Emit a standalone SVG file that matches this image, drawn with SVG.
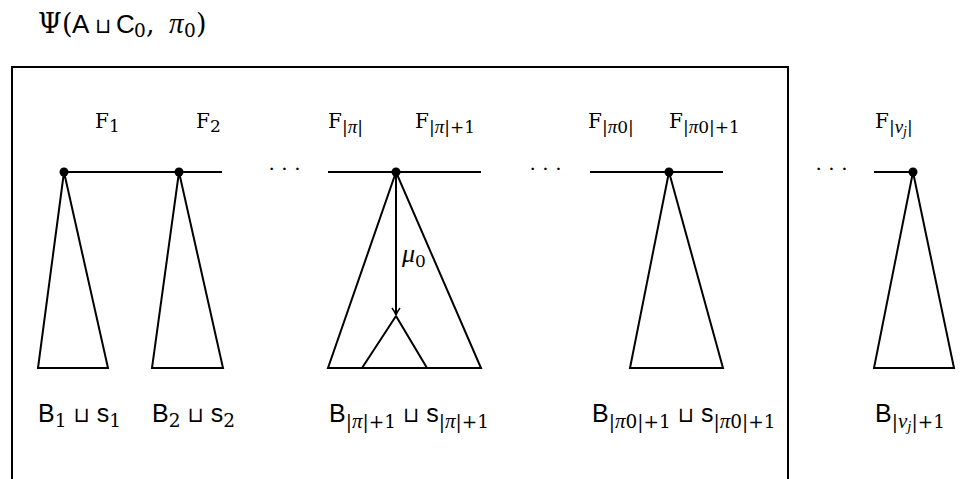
<svg xmlns="http://www.w3.org/2000/svg" width="970" height="479" viewBox="0 0 970 479">
<style>
.ln{stroke:#000;stroke-width:2;fill:none;stroke-linejoin:miter}
.dot{fill:#000}
.sf{font-family:"Liberation Sans","DejaVu Sans",sans-serif;font-size:25px}
.rm{font-family:"DejaVu Serif","Liberation Serif",serif;font-size:20px}
.sub{font-family:"DejaVu Serif","Liberation Serif",serif;font-size:17px}
.bsub{font-family:"DejaVu Serif","Liberation Serif",serif;font-size:18.5px}
.it{font-family:"Liberation Serif","DejaVu Serif",serif;font-style:italic}
.cup{font-family:"DejaVu Sans",sans-serif;font-size:21px}
.dots{font-family:"Liberation Serif",serif;font-size:22px}
</style>
<defs>
<marker id="ar" markerWidth="12" markerHeight="12" refX="9" refY="6" orient="auto" markerUnits="userSpaceOnUse">
<path d="M2,2 Q6,5 9,6 Q6,7 2,10" fill="none" stroke="#000" stroke-width="1.5"/>
</marker>
</defs>
<rect width="970" height="479" fill="#fff"/>
<text y="33" class="sf" style="font-size:26px"><tspan x="38" class="rm" style="font-size:27px">Ψ</tspan><tspan x="62" class="rm" style="font-size:27px">(</tspan><tspan x="72">A</tspan><tspan x="95" class="cup" style="font-size:21px">⊔</tspan><tspan x="116">C</tspan><tspan x="134" class="bsub" dy="4">0</tspan><tspan x="146" class="rm" style="font-size:27px" dy="-4">,</tspan><tspan x="169" class="it" style="font-size:29px">π</tspan><tspan x="184" class="bsub" dy="4">0</tspan><tspan x="196" class="rm" style="font-size:27px" dy="-4">)</tspan></text>
<path class="ln" d="M12,480 V67 H788 V480"/>
<g id="spine">
<path class="ln" d="M64,172 H222 M328,172 H481 M590,172 H723 M874,172 H913"/>
<text x="268" y="176" class="dots">· · ·</text>
<text x="529" y="176" class="dots">· · ·</text>
<text x="815" y="176" class="dots">· · ·</text>
</g>
<g id="tree1">
<path class="ln" d="M64,172 L38,368 H108 Z"/>
<circle class="dot" cx="64" cy="172" r="4.5"/>
<text x="95" y="128" class="rm">F<tspan class="sub" dy="4">1</tspan></text>
<text x="38" y="422" class="sf">B<tspan class="bsub" dy="5">1</tspan><tspan dy="-5"> </tspan><tspan class="cup">⊔</tspan> s<tspan class="bsub" dy="5">1</tspan></text>
</g>
<g id="tree2">
<path class="ln" d="M179,172 L152,368 H223 Z"/>
<circle class="dot" cx="179" cy="172" r="4.5"/>
<text x="196" y="128" class="rm">F<tspan class="sub" dy="4">2</tspan></text>
<text x="152" y="422" class="sf">B<tspan class="bsub" dy="5">2</tspan><tspan dy="-5"> </tspan><tspan class="cup">⊔</tspan> s<tspan class="bsub" dy="5">2</tspan></text>
</g>
<g id="tree3">
<path class="ln" d="M396,172 L328,368 H481 Z"/>
<path class="ln" d="M396,316 L362,368 M396,316 L427,368"/>
<circle class="dot" cx="396" cy="172" r="4.5"/>
<text x="328" y="128" class="rm">F<tspan class="sub" dy="5">|<tspan class="it" style="font-size:19px">π</tspan>|</tspan></text>
<text x="415" y="128" class="rm">F<tspan class="sub" dy="5">|<tspan class="it" style="font-size:19px">π</tspan>|+1</tspan></text>
<text x="329" y="422" class="sf">B<tspan class="bsub" dy="6">|<tspan class="it" style="font-size:21px">π</tspan>|+1</tspan><tspan dy="-6"> </tspan><tspan class="cup">⊔</tspan> s<tspan class="bsub" dy="6">|<tspan class="it" style="font-size:21px">π</tspan>|+1</tspan></text>
</g>
<g id="tree4">
<path class="ln" d="M669,172 L630,368 H723 Z"/>
<circle class="dot" cx="669" cy="172" r="4.5"/>
<text x="588" y="128" class="rm">F<tspan class="sub" dy="5">|<tspan class="it" style="font-size:19px">π</tspan>0|</tspan></text>
<text x="669" y="128" class="rm">F<tspan class="sub" dy="5">|<tspan class="it" style="font-size:19px">π</tspan>0|+1</tspan></text>
<text x="592" y="422" class="sf">B<tspan class="bsub" dy="6">|<tspan class="it" style="font-size:21px">π</tspan>0|+1</tspan><tspan dy="-6"> </tspan><tspan class="cup">⊔</tspan> s<tspan class="bsub" dy="6">|<tspan class="it" style="font-size:21px">π</tspan>0|+1</tspan></text>
</g>
<g id="tree5">
<path class="ln" d="M913,172 L874,368 H954 Z"/>
<circle class="dot" cx="913" cy="172" r="4.5"/>
<text x="875" y="128" class="rm">F<tspan class="sub" dy="5">|<tspan class="it" style="font-size:19px">ν<tspan style="font-size:14px" dy="3">j</tspan></tspan><tspan dy="-3">|</tspan></tspan></text>
<text x="875" y="422" class="sf">B<tspan class="bsub" dy="6">|<tspan class="it" style="font-size:21px">ν<tspan style="font-size:15px" dy="3">j</tspan></tspan><tspan dy="-3">|+1</tspan></tspan></text>
</g>
<g id="connectors">
<line class="ln" x1="396" y1="172" x2="396" y2="315" marker-end="url(#ar)"/>
<text x="402" y="262" class="it" style="font-size:26px">μ<tspan class="sub" style="font-style:normal" dy="5">0</tspan></text>
</g>
</svg>
